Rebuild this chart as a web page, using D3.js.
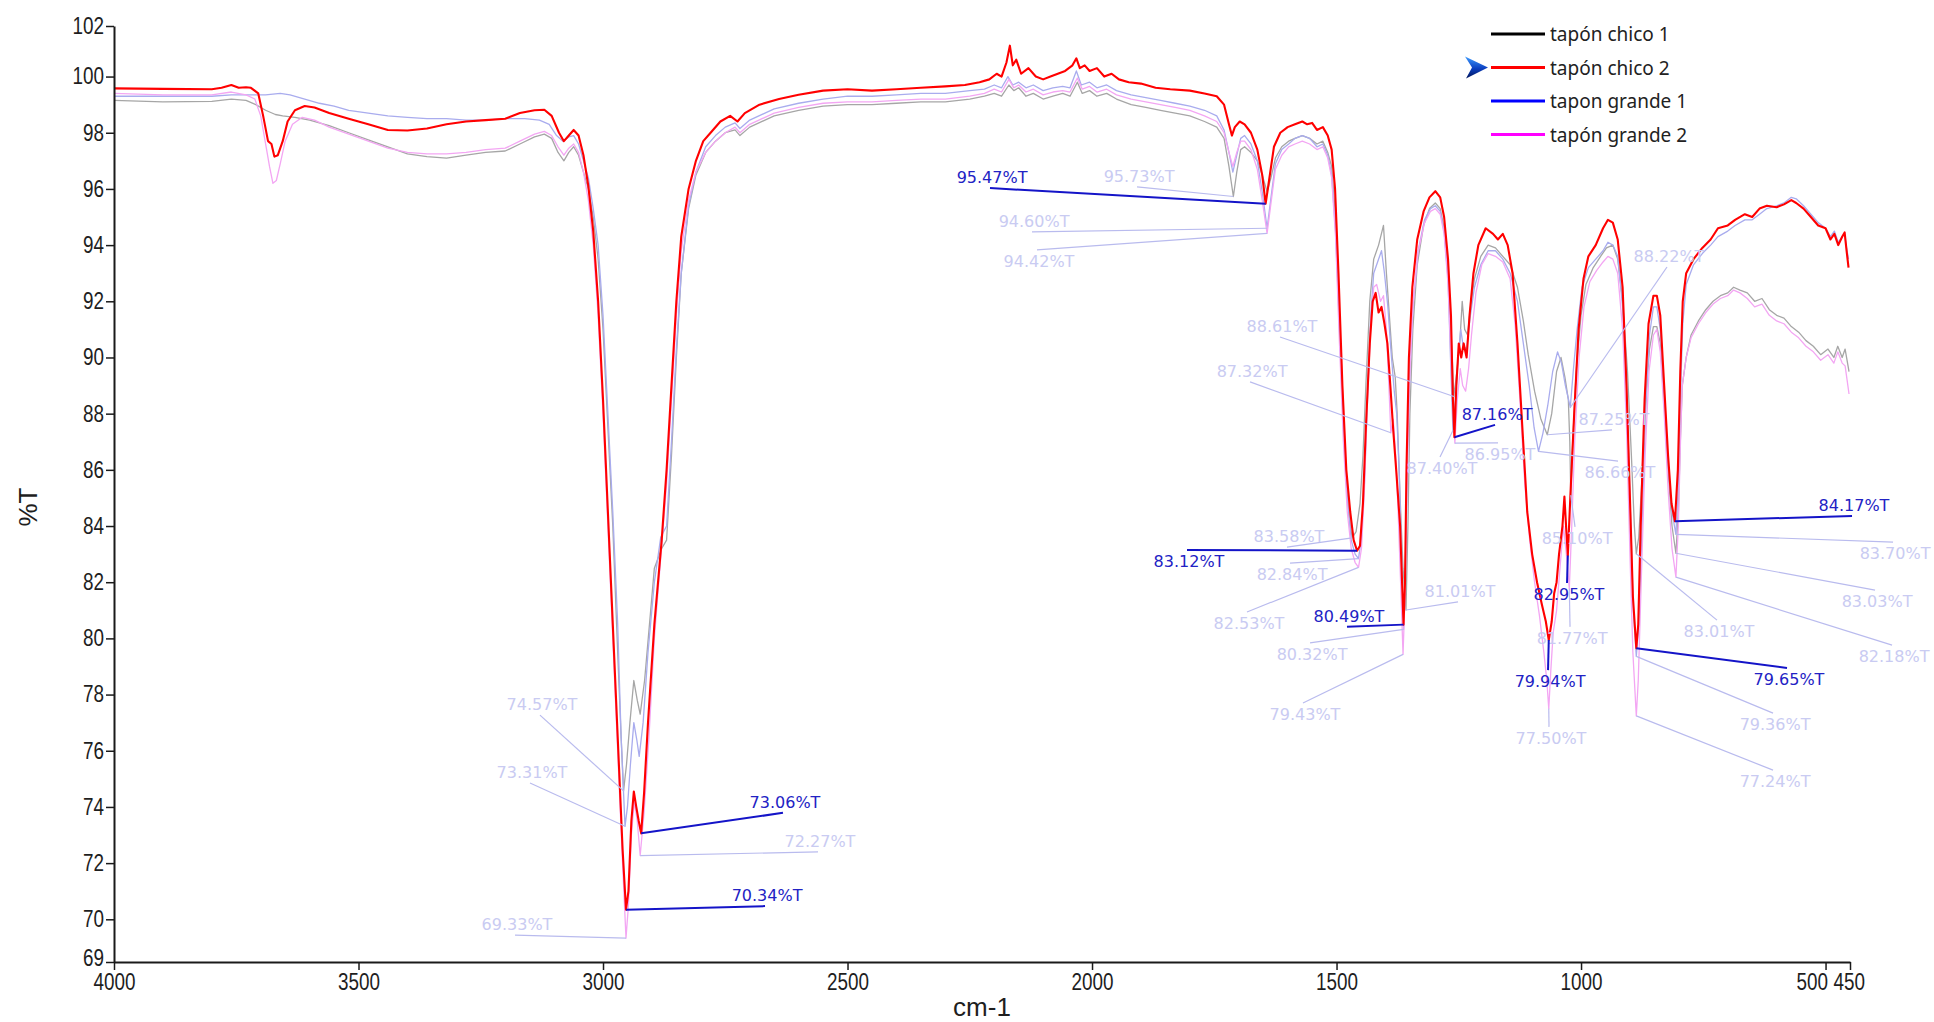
<!DOCTYPE html>
<html>
<head>
<meta charset="utf-8">
<title>Espectro IR – tapones</title>
<script src="https://cdn.jsdelivr.net/npm/d3@7"></script>
<style>
  html, body { margin: 0; padding: 0; background: #ffffff; }
  svg { display: block; }
  .tick text { font-family: "Liberation Sans Narrow", "Arial Narrow", "Liberation Sans", Arial, sans-serif; font-size: 23px; fill: #1e1e1e; }
  .callout { font-family: "DejaVu Sans", Verdana, sans-serif; font-size: 16px; }
</style>
</head>
<body>
<svg id="chart" width="1934" height="1022"></svg>
<script>
// ---- Axis ticks ----------------------------------------------------------
const xTickValues = [4000, 3500, 3000, 2500, 2000, 1500, 1000, 500, 450];
const yTickValues = [70, 72, 74, 76, 78, 80, 82, 84, 86, 88, 90, 92, 94, 96, 98, 100];
const yLimits = [68.48, 101.8];           // full %T range of the plot
const yLimitLabels = ["69", "102"];       // labels printed at the range ends

// ---- Series ----------------------------------------------------------------
const seriesNames = ["tapón chico 1", "tapón chico 2", "tapon grande 1", "tapón grande 2"];

// tapón chico 1 : [wavenumber cm-1, %T]
const chico1 = [[4000,99.15],[3900,99.1],[3800,99.12],[3760,99.2],[3730,99.15],[3710,99.0],[3690,98.8],[3670,98.65],[3655,98.6],[3630,98.55],[3600,98.45],[3560,98.25],[3520,98.0],[3480,97.75],[3440,97.5],[3400,97.25],[3360,97.15],[3320,97.1],[3280,97.2],[3240,97.3],[3200,97.35],[3170,97.6],[3140,97.85],[3120,97.95],[3105,97.8],[3092,97.3],[3080,97.0],[3070,97.3],[3060,97.5],[3050,97.2],[3040,96.6],[3030,96.0],[3020,95.0],[3010,93.5],[3000,91.0],[2990,87.5],[2980,84.0],[2970,79.5],[2963,76.5],[2958,74.57],[2952,75.5],[2945,77.0],[2937,78.5],[2930,77.8],[2924,77.3],[2915,78.5],[2905,80.5],[2895,82.5],[2880,83.2],[2870,83.5],[2860,86.5],[2850,90.0],[2840,93.0],[2825,95.3],[2810,96.5],[2790,97.3],[2770,97.7],[2750,98.0],[2730,98.1],[2720,97.9],[2700,98.2],[2650,98.6],[2600,98.8],[2550,98.95],[2500,99.0],[2450,99.0],[2400,99.05],[2350,99.1],[2300,99.1],[2250,99.2],[2220,99.3],[2200,99.4],[2185,99.3],[2170,99.7],[2160,99.5],[2150,99.6],[2135,99.3],[2120,99.4],[2100,99.2],[2080,99.3],[2060,99.4],[2045,99.3],[2030,99.8],[2020,99.4],[2005,99.5],[1990,99.3],[1970,99.4],[1950,99.2],[1920,99.0],[1890,98.9],[1860,98.8],[1830,98.7],[1800,98.6],[1770,98.4],[1745,98.2],[1730,97.8],[1720,96.8],[1711,95.73],[1704,96.6],[1696,97.4],[1688,97.5],[1675,97.3],[1662,97.0],[1652,96.5],[1642,95.9],[1634,96.4],[1625,97.1],[1612,97.5],[1598,97.7],[1585,97.8],[1570,97.9],[1555,97.8],[1540,97.6],[1528,97.7],[1518,97.3],[1510,96.8],[1502,95.0],[1494,91.5],[1486,88.0],[1478,85.0],[1472,84.0],[1468,83.58],[1460,83.8],[1452,84.8],[1446,86.5],[1440,89.0],[1432,92.0],[1424,93.5],[1414,94.0],[1404,94.7],[1398,93.0],[1392,91.5],[1386,90.0],[1380,89.3],[1376,88.0],[1370,85.0],[1364,82.5],[1358,81.01],[1354,84.0],[1350,88.0],[1344,91.0],[1335,93.3],[1322,94.7],[1310,95.3],[1298,95.5],[1288,95.3],[1280,94.6],[1272,93.2],[1266,91.0],[1260,88.61],[1254,89.5],[1248,90.5],[1243,92.0],[1238,91.0],[1232,90.8],[1226,91.8],[1218,92.8],[1205,93.6],[1190,94.0],[1175,93.9],[1160,93.6],[1145,93.3],[1130,92.5],[1118,91.3],[1108,90.1],[1095,88.8],[1082,87.8],[1069,87.25],[1060,88.0],[1050,89.5],[1041,90.0],[1033,89.3],[1026,88.5],[1023,87.0],[1021,85.1],[1017,87.0],[1010,89.5],[1000,91.5],[990,92.6],[975,93.2],[960,93.6],[948,93.9],[935,94.0],[925,93.5],[915,92.0],[905,89.5],[897,86.5],[891,84.0],[887,83.01],[882,83.6],[876,85.5],[868,88.5],[860,90.3],[852,91.1],[845,91.1],[838,90.5],[830,88.5],[822,86.0],[814,84.0],[806,83.03],[801,84.5],[797,87.0],[793,89.0],[785,90.0],[775,90.8],[760,91.3],[745,91.7],[730,92.0],[715,92.2],[700,92.3],[688,92.5],[675,92.4],[660,92.3],[645,92.0],[630,92.1],[615,91.7],[600,91.5],[585,91.4],[570,91.1],[555,90.9],[540,90.6],[525,90.4],[510,90.1],[495,90.3],[483,90.0],[475,90.4],[466,90.0],[460,90.3],[455,89.8],[452,89.5]];

// tapón chico 2
const chico2 = [[4000,99.58],[3900,99.56],[3800,99.55],[3780,99.6],[3760,99.7],[3745,99.6],[3730,99.62],[3720,99.6],[3705,99.4],[3695,98.6],[3685,97.7],[3678,97.6],[3672,97.15],[3665,97.2],[3655,97.7],[3645,98.4],[3630,98.8],[3610,98.95],[3590,98.9],[3560,98.7],[3520,98.5],[3480,98.3],[3440,98.1],[3400,98.08],[3360,98.15],[3320,98.3],[3280,98.4],[3240,98.45],[3200,98.5],[3170,98.7],[3140,98.8],[3120,98.82],[3105,98.6],[3090,98.0],[3080,97.7],[3070,97.9],[3060,98.1],[3050,97.9],[3040,97.2],[3030,96.1],[3020,94.5],[3010,92.0],[3000,88.5],[2990,84.5],[2980,80.5],[2970,76.5],[2960,72.5],[2953,70.34],[2948,71.0],[2942,73.5],[2937,74.55],[2932,74.0],[2927,73.5],[2922,73.06],[2916,74.5],[2908,77.0],[2895,80.5],[2880,83.5],[2870,86.0],[2860,89.0],[2850,92.0],[2840,94.3],[2825,96.0],[2810,97.0],[2795,97.7],[2780,98.0],[2760,98.4],[2740,98.6],[2725,98.4],[2710,98.7],[2680,99.0],[2640,99.2],[2600,99.35],[2550,99.5],[2500,99.55],[2450,99.5],[2400,99.55],[2350,99.6],[2300,99.65],[2260,99.7],[2230,99.8],[2210,99.9],[2195,100.1],[2185,100.0],[2175,100.5],[2168,101.1],[2162,100.4],[2155,100.6],[2145,100.1],[2130,100.3],[2115,100.0],[2100,99.9],[2085,100.0],[2070,100.1],[2055,100.2],[2040,100.4],[2032,100.65],[2025,100.3],[2015,100.4],[2005,100.2],[1990,100.3],[1975,100.0],[1960,100.1],[1945,99.9],[1925,99.8],[1900,99.75],[1870,99.6],[1840,99.55],[1800,99.5],[1770,99.4],[1745,99.3],[1730,99.0],[1720,98.3],[1714,97.9],[1708,98.2],[1698,98.4],[1688,98.3],[1675,98.0],[1662,97.4],[1652,96.5],[1645,95.47],[1638,96.3],[1628,97.5],[1615,98.0],[1600,98.2],[1585,98.3],[1570,98.4],[1560,98.3],[1550,98.35],[1540,98.1],[1528,98.2],[1518,97.9],[1510,97.4],[1503,96.0],[1496,93.0],[1488,89.0],[1480,86.0],[1472,84.5],[1465,83.5],[1458,83.12],[1452,83.3],[1446,84.8],[1440,87.5],[1432,90.5],[1426,92.0],[1420,92.3],[1414,91.6],[1408,91.8],[1402,91.2],[1396,90.5],[1390,89.0],[1384,87.4],[1378,86.0],[1374,85.0],[1370,84.0],[1366,82.0],[1363,80.49],[1360,82.0],[1357,86.0],[1352,90.0],[1345,92.5],[1335,94.2],[1322,95.2],[1310,95.7],[1298,95.92],[1288,95.7],[1280,95.0],[1272,93.5],[1266,91.5],[1262,88.5],[1259,87.16],[1255,89.0],[1250,90.5],[1245,90.0],[1240,90.5],[1234,90.0],[1228,91.5],[1220,93.0],[1210,94.0],[1195,94.6],[1180,94.4],[1170,94.2],[1160,94.4],[1150,94.0],[1140,93.0],[1130,90.5],[1120,87.5],[1110,84.5],[1100,83.0],[1090,82.0],[1080,81.2],[1072,80.6],[1066,79.94],[1060,80.6],[1055,81.6],[1050,82.0],[1045,83.0],[1038,84.0],[1034,85.05],[1030,83.8],[1027,82.95],[1022,85.0],[1014,88.0],[1005,91.0],[995,92.8],[985,93.6],[970,94.0],[955,94.6],[945,94.9],[935,94.8],[925,94.2],[915,92.5],[907,89.0],[900,85.0],[894,81.5],[887,79.65],[883,80.5],[878,84.0],[870,88.5],[862,91.2],[852,92.2],[845,92.2],[838,91.5],[830,89.0],[822,86.5],[815,84.8],[808,84.17],[802,86.0],[797,89.5],[792,92.0],[785,93.0],[770,93.5],[752,93.9],[735,94.2],[720,94.6],[700,94.7],[685,94.9],[665,95.1],[650,95.0],[635,95.3],[620,95.4],[600,95.35],[585,95.45],[570,95.6],[560,95.5],[545,95.3],[530,95.0],[515,94.7],[500,94.6],[490,94.2],[482,94.4],[474,94.0],[466,94.3],[461,94.45],[457,93.8],[453,93.2]];

// tapon grande 1
const grande1 = [[4000,99.3],[3900,99.3],[3800,99.3],[3760,99.35],[3720,99.35],[3690,99.35],[3660,99.4],[3640,99.35],[3610,99.2],[3580,99.05],[3550,98.95],[3520,98.8],[3480,98.7],[3440,98.6],[3400,98.55],[3360,98.5],[3320,98.5],[3280,98.45],[3240,98.45],[3200,98.5],[3160,98.5],[3130,98.45],[3110,98.3],[3095,97.9],[3082,97.7],[3070,97.85],[3060,97.9],[3050,97.6],[3040,97.0],[3030,96.4],[3020,95.3],[3010,94.0],[3000,91.5],[2990,88.0],[2980,84.5],[2970,80.5],[2963,76.5],[2955,73.31],[2950,74.0],[2944,75.5],[2937,77.0],[2931,76.4],[2926,75.8],[2918,77.0],[2908,79.5],[2895,82.0],[2882,83.6],[2870,84.0],[2860,87.0],[2850,90.3],[2840,93.0],[2825,95.4],[2810,96.6],[2790,97.5],[2770,97.9],[2750,98.2],[2730,98.35],[2720,98.15],[2700,98.45],[2650,98.85],[2600,99.05],[2550,99.2],[2500,99.3],[2450,99.3],[2400,99.35],[2350,99.4],[2300,99.4],[2250,99.5],[2220,99.55],[2200,99.7],[2185,99.6],[2172,100.0],[2162,99.7],[2150,99.8],[2135,99.6],[2120,99.7],[2100,99.5],[2080,99.6],[2060,99.65],[2045,99.6],[2032,100.2],[2022,99.7],[2005,99.8],[1990,99.6],[1970,99.7],[1950,99.5],[1920,99.35],[1890,99.25],[1860,99.15],[1830,99.05],[1800,98.95],[1770,98.8],[1745,98.6],[1730,98.1],[1720,97.3],[1712,96.6],[1704,97.2],[1696,97.8],[1688,97.9],[1675,97.6],[1662,97.0],[1652,95.9],[1642,94.6],[1634,95.7],[1625,96.9],[1612,97.4],[1598,97.6],[1585,97.8],[1570,97.9],[1555,97.8],[1540,97.5],[1528,97.6],[1518,97.2],[1510,96.5],[1502,94.5],[1494,91.0],[1486,87.5],[1478,85.0],[1470,83.5],[1462,83.0],[1455,82.84],[1449,83.6],[1443,85.5],[1437,88.5],[1430,91.5],[1424,93.0],[1416,93.4],[1408,93.8],[1402,93.0],[1395,91.8],[1389,90.3],[1382,88.8],[1377,88.0],[1372,86.0],[1367,83.0],[1363,80.32],[1359,82.5],[1355,86.5],[1350,89.5],[1343,92.0],[1333,93.8],[1320,94.9],[1308,95.3],[1298,95.4],[1288,95.2],[1280,94.5],[1272,92.8],[1267,90.0],[1262,87.4],[1257,88.5],[1251,90.0],[1246,91.0],[1241,90.4],[1234,90.3],[1227,91.4],[1218,92.5],[1205,93.3],[1190,93.8],[1175,93.8],[1160,93.5],[1145,93.0],[1130,92.0],[1118,90.5],[1106,89.0],[1096,87.5],[1087,86.66],[1078,87.3],[1068,88.3],[1058,89.5],[1048,90.2],[1040,89.8],[1032,89.0],[1022,88.22],[1016,89.5],[1008,91.0],[998,92.5],[985,93.2],[970,93.5],[955,93.8],[945,94.1],[935,94.0],[925,93.6],[915,91.8],[906,88.5],[899,84.5],[893,81.0],[887,79.36],[882,80.5],[876,83.5],[868,88.0],[860,90.8],[852,91.8],[845,91.8],[838,91.0],[830,88.8],[822,86.2],[814,84.5],[806,83.7],[801,85.5],[797,88.5],[792,91.2],[785,92.6],[770,93.3],[752,93.7],[735,94.0],[720,94.3],[700,94.5],[685,94.7],[665,94.9],[650,94.9],[635,95.1],[620,95.3],[600,95.4],[585,95.5],[570,95.7],[560,95.65],[545,95.4],[530,95.1],[515,94.8],[500,94.6],[490,94.3],[482,94.5],[474,94.1],[466,94.3],[461,94.4],[457,93.9],[453,93.5]];

// tapón grande 2
const grande2 = [[4000,99.4],[3900,99.35],[3800,99.35],[3760,99.45],[3730,99.35],[3712,99.2],[3700,98.6],[3690,97.6],[3682,96.8],[3675,96.2],[3668,96.3],[3660,96.9],[3650,97.7],[3635,98.3],[3615,98.55],[3590,98.45],[3560,98.2],[3520,97.95],[3480,97.7],[3440,97.45],[3400,97.3],[3360,97.25],[3320,97.25],[3280,97.3],[3240,97.4],[3200,97.45],[3170,97.7],[3140,97.95],[3120,98.05],[3105,97.9],[3092,97.5],[3080,97.2],[3070,97.45],[3060,97.6],[3050,97.3],[3040,96.6],[3030,95.6],[3020,94.0],[3010,91.5],[3000,88.0],[2990,84.0],[2980,80.0],[2970,76.0],[2960,72.0],[2953,69.33],[2948,70.5],[2942,73.0],[2936,74.2],[2930,73.5],[2924,72.27],[2916,73.8],[2906,76.5],[2895,80.0],[2880,83.3],[2870,85.5],[2860,88.5],[2850,91.5],[2840,93.8],[2825,95.6],[2810,96.6],[2790,97.3],[2770,97.7],[2750,98.0],[2730,98.2],[2720,98.0],[2700,98.3],[2650,98.7],[2600,98.9],[2550,99.05],[2500,99.1],[2450,99.1],[2400,99.15],[2350,99.2],[2300,99.2],[2250,99.3],[2220,99.4],[2200,99.55],[2185,99.45],[2170,99.9],[2160,99.6],[2150,99.7],[2135,99.45],[2120,99.55],[2100,99.35],[2080,99.45],[2060,99.5],[2045,99.45],[2030,99.95],[2020,99.55],[2005,99.65],[1990,99.45],[1970,99.55],[1950,99.35],[1920,99.2],[1890,99.1],[1860,99.0],[1830,98.9],[1800,98.8],[1770,98.6],[1745,98.4],[1730,98.0],[1720,97.3],[1712,96.8],[1704,97.3],[1696,97.7],[1688,97.7],[1675,97.4],[1662,96.7],[1652,95.6],[1642,94.42],[1634,95.5],[1625,96.7],[1612,97.2],[1598,97.5],[1585,97.6],[1570,97.7],[1555,97.6],[1540,97.4],[1528,97.5],[1518,97.1],[1510,96.4],[1502,94.3],[1494,90.5],[1486,87.0],[1478,84.5],[1470,83.2],[1462,82.7],[1455,82.53],[1449,83.2],[1443,85.3],[1437,88.3],[1430,91.2],[1424,92.5],[1418,92.6],[1410,92.0],[1404,92.2],[1398,91.0],[1393,89.0],[1389,87.32],[1384,87.8],[1379,86.5],[1374,84.5],[1369,82.0],[1364,79.43],[1360,81.5],[1356,85.5],[1351,89.0],[1344,91.8],[1334,93.7],[1320,94.8],[1308,95.2],[1298,95.3],[1288,95.1],[1280,94.4],[1272,92.6],[1265,89.5],[1258,86.95],[1253,88.5],[1247,89.6],[1242,89.0],[1236,88.8],[1230,89.6],[1224,90.8],[1215,92.3],[1203,93.3],[1190,93.7],[1175,93.6],[1160,93.4],[1145,92.8],[1135,91.2],[1125,88.5],[1115,85.5],[1105,83.5],[1095,82.0],[1085,80.8],[1076,79.5],[1070,78.5],[1066,77.5],[1062,78.8],[1057,80.2],[1050,81.0],[1044,82.3],[1036,84.0],[1030,83.0],[1024,81.77],[1019,84.0],[1013,87.0],[1004,90.0],[994,91.8],[982,92.7],[968,93.1],[955,93.4],[945,93.6],[935,93.5],[925,93.0],[915,91.0],[907,87.5],[900,83.0],[894,79.5],[887,77.24],[883,78.5],[877,82.0],[869,86.5],[861,89.5],[852,90.8],[845,91.0],[838,90.2],[830,88.0],[822,85.3],[814,83.2],[806,82.18],[801,84.0],[797,86.8],[793,89.0],[785,90.0],[775,90.7],[760,91.2],[745,91.6],[730,91.9],[715,92.1],[700,92.2],[688,92.4],[675,92.3],[660,92.1],[645,91.8],[630,91.9],[615,91.5],[600,91.3],[585,91.2],[570,90.9],[555,90.7],[540,90.4],[525,90.2],[510,89.9],[495,90.1],[483,89.8],[475,90.2],[466,89.8],[460,89.7],[456,89.2],[452,88.7]];

// ---- Picked peaks: [wavenumber, %T] -----------------------------------------
const chico1Peaks = [[2958,74.57],[1711,95.73],[1468,83.58],[1358,81.01],[1260,88.61],[1069,87.25],[1021,85.10],[887,83.01],[806,83.03]];
const chico2Peaks = [[2953,70.34],[2922,73.06],[1645,95.47],[1458,83.12],[1363,80.49],[1259,87.16],[1066,79.94],[1027,82.95],[887,79.65],[808,84.17]];
const grande1Peaks = [[2955,73.31],[1642,94.60],[1455,82.84],[1363,80.32],[1262,87.40],[1087,86.66],[1022,88.22],[887,79.36],[806,83.70]];
const grande2Peaks = [[2953,69.33],[2924,72.27],[1642,94.42],[1455,82.53],[1389,87.32],[1364,79.43],[1258,86.95],[1066,77.50],[1024,81.77],[887,77.24],[806,82.18]];

// Where each peak label's leader ends (in axis units) and whether the text
// sits above or below that end; same order as the peak lists.
const chico1Placement = [[3128.9,77.27,"above"],[1908,96.07,"above"],[1601.3,83.25,"above"],[1251.6,81.30,"above"],[1615.6,90.73,"above"],[936.7,87.42,"above"],[1012.3,83.97,"below"],[722,80.65,"below"],[398.8,81.72,"below"]];
const chico2Placement = [[2668.7,70.47,"above"],[2632,73.79,"above"],[2208.6,96.03,"above"],[1805.8,83.15,"below"],[1478.6,80.41,"above"],[1175.9,87.60,"above"],[1067.5,78.87,"below"],[1028.7,81.97,"below"],[578.8,78.95,"below"],[445.9,84.36,"above"]];
const grande1Placement = [[3149.3,74.85,"above"],[2122.7,94.47,"above"],[1595.1,82.68,"below"],[1554.2,79.84,"below"],[1288.4,86.46,"below"],[924.4,86.31,"below"],[824.2,93.22,"above"],[607.4,77.34,"below"],[362,83.43,"below"]];
const grande2Placement = [[3180,69.44,"above"],[2560.4,72.40,"above"],[2112.5,93.83,"below"],[1683.1,80.94,"below"],[1676.9,89.13,"above"],[1568.6,77.70,"below"],[1169.8,86.96,"below"],[1065.5,76.85,"below"],[1022.5,80.41,"below"],[607.4,75.31,"below"],[364,79.76,"below"]];

// ---- Layout -----------------------------------------------------------------
const plot = { left: 114, right: 1850, top: 26, bottom: 962 };

const svg = d3.select("#chart");

const x = d3.scaleLinear().domain([4000, 450]).range([plot.left, plot.right]);
const y = d3.scaleLinear().domain(yLimits).range([plot.bottom, plot.top]);

// Series styling: the selected spectrum is saturated, the others are dimmed
const series = [
  { name: seriesNames[0], data: chico1,  peaks: chico1Peaks,  place: chico1Placement,  legend: "#000000", stroke: "#a6a6a6", width: 1.3, active: false },
  { name: seriesNames[2], data: grande1, peaks: grande1Peaks, place: grande1Placement, legend: "#0000ff", stroke: "#a9acee", width: 1.3, active: false },
  { name: seriesNames[3], data: grande2, peaks: grande2Peaks, place: grande2Placement, legend: "#ff00ff", stroke: "#f3a6f3", width: 1.3, active: false },
  { name: seriesNames[1], data: chico2,  peaks: chico2Peaks,  place: chico2Placement,  legend: "#ff0000", stroke: "#ff0000", width: 2.1, active: true }
];

// Curve points with the picked peaks folded in, so the trace passes through them
function traceOf(s) {
  const m = new Map(s.data.map(d => [d[0], d[1]]));
  s.peaks.forEach(p => m.set(p[0], p[1]));
  return Array.from(m, ([w, t]) => [w, t]).sort((a, b) => b[0] - a[0]);
}

const line = d3.line().x(d => x(d[0])).y(d => y(d[1]));

const curves = svg.append("g").attr("class", "curves");
series.forEach(s => {
  curves.append("path")
    .datum(traceOf(s))
    .attr("fill", "none")
    .attr("stroke", s.stroke)
    .attr("stroke-width", s.width)
    .attr("stroke-linejoin", "round")
    .attr("d", line);
});

// ---- Peak callouts ----------------------------------------------------------
const fmt = d3.format(".2f");
const callouts = svg.append("g").attr("class", "callouts");
// dimmed ones first, selected spectrum's callouts on top
series.forEach(s => {
  const lineCol = s.active ? "#1414c8" : "#b9bbee";
  const textCol = s.active ? "#2222c4" : "#c9cbf2";
  s.peaks.forEach((p, i) => {
    const [ew, et, side] = s.place[i];
    const g = callouts.append("g");
    g.append("line")
      .attr("x1", x(p[0])).attr("y1", y(p[1]))
      .attr("x2", x(ew)).attr("y2", y(et))
      .attr("stroke", lineCol)
      .attr("stroke-width", s.active ? 2 : 1.2);
    g.append("text")
      .attr("class", "callout")
      .attr("x", x(ew) + 2)
      .attr("y", y(et) + (side === "above" ? -5 : 17))
      .attr("text-anchor", "middle")
      .attr("fill", textCol)
      .text(fmt(p[1]) + "%T");
  });
});

// ---- Axes -------------------------------------------------------------------
const xAxis = d3.axisBottom(x)
  .tickValues(xTickValues)
  .tickFormat(d3.format("d"))
  .tickSize(8).tickSizeOuter(0).tickPadding(3);

const yAxis = d3.axisLeft(y)
  .tickValues([yLimits[0], ...yTickValues, yLimits[1]])
  .tickFormat(d => d === yLimits[0] ? yLimitLabels[0] : d === yLimits[1] ? yLimitLabels[1] : d3.format("d")(d))
  .tickSize(8).tickSizeOuter(0).tickPadding(2);

const gx = svg.append("g").attr("transform", `translate(0,${plot.bottom})`).call(xAxis);
const gy = svg.append("g").attr("transform", `translate(${plot.left},0)`).call(yAxis);
[gx, gy].forEach(g => {
  g.select(".domain").attr("stroke", "#1a1a1a").attr("stroke-width", 2);
  g.selectAll(".tick line").attr("stroke", "#1a1a1a").attr("stroke-width", 1.5);
  // condensed numerals
  g.selectAll(".tick text").each(function () {
    const w = this.getComputedTextLength();
    d3.select(this).attr("textLength", w * 0.82).attr("lengthAdjust", "spacingAndGlyphs");
  });
});
// the 500 label is nudged left so it does not collide with the 450 end label
gx.selectAll(".tick").filter(d => d === 500).select("text")
  .attr("text-anchor", "end").attr("x", 2);
gx.selectAll(".tick").filter(d => d === 450).select("text")
  .attr("text-anchor", "start").attr("x", -17);
gx.selectAll(".tick text").attr("y", 12);
// the bottom end label sits just above the 4000 label
gy.selectAll(".tick").filter(d => d === yLimits[0]).select("text").attr("y", -4);

svg.append("text")
  .attr("transform", `translate(28,${(plot.top + plot.bottom) / 2 + 13}) rotate(-90)`)
  .attr("text-anchor", "middle")
  .attr("dominant-baseline", "central")
  .style("font-family", "'Liberation Sans', Arial, sans-serif")
  .style("font-size", "26px")
  .attr("fill", "#1e1e1e")
  .text("%T");

svg.append("text")
  .attr("x", (plot.left + plot.right) / 2)
  .attr("y", 1016)
  .attr("text-anchor", "middle")
  .style("font-family", "'Liberation Sans', Arial, sans-serif")
  .style("font-size", "26px")
  .attr("fill", "#1e1e1e")
  .text("cm-1");

// ---- Legend -----------------------------------------------------------------
const legendOrder = [series[0], series[3], series[1], series[2]];
const legend = svg.append("g").attr("transform", "translate(1491,34)");
legendOrder.forEach((s, i) => {
  const row = legend.append("g").attr("transform", `translate(0,${i * 33.5})`);
  row.append("line").attr("x1", 0).attr("x2", 54).attr("y1", 0).attr("y2", 0)
    .attr("stroke", s.legend).attr("stroke-width", 3);
  row.append("text").attr("x", 59).attr("y", 0)
    .attr("dominant-baseline", "central")
    .style("font-family", "'Noto Sans', 'Open Sans', sans-serif")
    .style("font-size", "19px")
    .attr("fill", "#222222")
    .text(s.name);
});

// pointer marking the selected spectrum in the legend
const defs = svg.append("defs");
const grad = defs.append("linearGradient").attr("id", "selGrad")
  .attr("x1", 0).attr("y1", 0).attr("x2", 0).attr("y2", 1);
grad.append("stop").attr("offset", "0%").attr("stop-color", "#3d9bff");
grad.append("stop").attr("offset", "55%").attr("stop-color", "#0b3fc0");
grad.append("stop").attr("offset", "100%").attr("stop-color", "#00145a");
const selIndex = legendOrder.findIndex(s => s.active);
legend.append("path")
  .attr("transform", `translate(-26,${selIndex * 33.5})`)
  .attr("d", "M0,-11 L23,0 L1,11 L7,0 Z")
  .attr("fill", "url(#selGrad)");
</script>
</body>
</html>
